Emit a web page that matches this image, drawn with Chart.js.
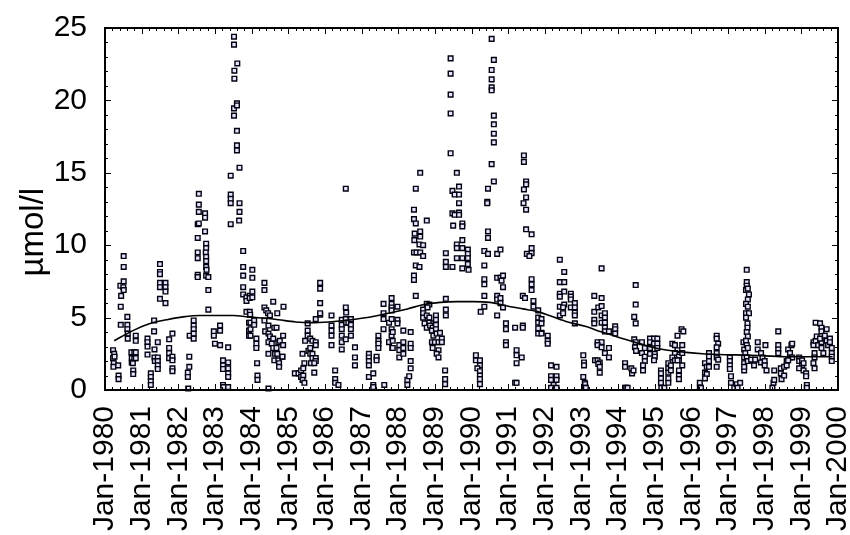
<!DOCTYPE html>
<html>
<head>
<meta charset="utf-8">
<script src="https://cdn.jsdelivr.net/npm/chart.js@4.4.1/dist/chart.umd.min.js"></script>
<style>
  html, body { margin: 0; padding: 0; background: #fff; }
  #wrap { width: 850px; height: 535px; }
</style>
</head>
<body>
<div id="wrap"><canvas id="myChart" width="850" height="535"></canvas></div>
<script>
// sample dates (decimal years) and measured values, one line per cluster
const sampleTimes = [
  1980.22,1980.25,1980.22,1980.24,1980.23,1980.26, 1980.36,1980.37,1980.37,
  1980.43,1980.43,1980.44,1980.42,1980.51,1980.5,1980.51,1980.51,1980.51,
  1980.61,1980.61,1980.61,1980.62,1980.62,
  1980.72,1980.73,1980.73,1980.76,1980.77,1980.77,1980.8,1980.8,1980.84,1980.84,1980.84,1980.84,
  // 1981
  1981.16,1981.16,1981.16,1981.16, 1981.25,1981.25,1981.25,1981.25,
  1981.34,1981.34,1981.35,1981.35,1981.36, 1981.44,1981.44,1981.44,1981.44,1981.44,
  1981.5,1981.5,1981.5,1981.5,1981.5,1981.5, 1981.65,1981.65,1981.65,1981.65,
  1981.75,1981.75,1981.75,1981.75, 1981.84,1981.84,1981.84,1981.84,1981.84,
  // 1982
  1982.27,1982.26,1982.26,1982.3,1982.3,1982.31, 1982.42,1982.42,1982.42,1982.42,1982.42,
  1982.53,1982.53,1982.53,1982.53,1982.53,1982.53, 1982.56,1982.56,1982.56,1982.56,
  1982.73,1982.73,1982.73, 1982.76,1982.76,1982.75,1982.76,1982.76,1982.76,1982.77,1982.76,
  1982.82,1982.82,1982.82,
  // 1983
  1982.97,1982.97,1983.0, 1983.14,1983.14,1983.14, 1983.22,1983.22,1983.22,1983.22,1983.23,
  1983.36,1983.36,1983.36,1983.36,1983.36,1983.36, 1983.43,1983.43,1983.43,1983.43,1983.43,
  1983.52,1983.52,1983.53,1983.53,1983.52,1983.52, 1983.61,1983.6,1983.6,1983.6,1983.6,1983.6,
  1983.67,1983.67,1983.67,1983.66, 1983.77,1983.77,1983.77,1983.77,1983.77,
  1983.86,1983.86,1983.86, 1983.93,1983.93,1983.93,
  // 1984
  1983.95,1983.95,1983.95,1983.96, 1984.02,1984.02,1984.02,1984.02, 1983.97,1983.97,1983.97,
  1984.07,1984.07, 1984.13,1984.13,1984.13,1984.15,1984.16,1984.16,
  1984.35,1984.35,1984.35,1984.35,
  1984.4,1984.45,1984.5,1984.37,1984.46,1984.46,1984.5,1984.46,1984.46,1984.46,
  1984.59,1984.62,1984.68,1984.55,1984.59,1984.59,1984.68,1984.64,1984.7,
  1984.7,1984.73,1984.77,1984.62,1984.73,1984.84,1984.84,1984.75,1984.75,
  1984.87,1984.86,1984.86,
  // 1985
  1985.18,1985.28,1985.35,1985.35,1985.41,1985.41,1985.39,1985.44,1985.44,1985.46,1985.39,
  1985.53,1985.53,1985.53,1985.55, 1985.6,1985.6,1985.66,1985.75,1985.75,
  1985.6,1985.66,1985.66,1985.75,1985.75, 1985.62,1985.71,1985.71,
  1985.75,1985.87, 1985.87,1985.87,1985.87,1985.87,
  // 1986
  1986.18,1986.18,1986.18,1986.18,1986.18, 1986.28,1986.28,1986.28,1986.37,
  1986.46,1986.46,1986.46,1986.46,1986.46,1986.46,
  1986.57,1986.58,1986.57,1986.58,1986.64,1986.57, 1986.71,1986.71,1986.71,1986.71,
  1986.57, 1986.82,1986.82,1986.82,
  // 1987
  1987.2,1987.2,1987.2,1987.2,1987.2, 1987.32,1987.32,1987.32, 1987.41,1987.41,
  1987.46,1987.46,1987.46,1987.46, 1987.6,1987.6,1987.6,1987.6, 1987.62, 1987.75,1987.75,
  1987.82,1987.82,1987.82,1987.82,1987.82,1987.82,1987.82, 1987.84,
  // 1988
  1987.98,1987.98,1987.98,
  1987.85,1987.85,1987.85,1988.14,1988.03,1988.03,1988.03,1988.14,1988.14,1988.14,
  1988.25,1988.25,1988.3, 1988.34,1988.34,1988.34,1988.34,1988.34,
  1988.43,1988.43,1988.48,1988.48,1988.6,1988.45,1988.6,1988.6,1988.44,1988.58,1988.68,
  1988.43,1988.5,1988.6,1988.68,1988.48,1988.58,1988.43,1988.43,1988.48,1988.78,
  1988.68,1988.68,1988.68,1988.78,1988.85,1988.8,1988.78,1988.85,1988.72,1988.85,1988.96,
  1988.78,1988.87,1988.94,1989.03,1989.03,1989.03,1988.92,1989.03,1988.96,1989.05,1989.14,
  1988.92,1989.0,1989.1,1989.19,1989.19,1989.1,1988.94,1989.05,1989.1,
  // 1989
  1989.28,1989.28,1989.28, 1989.3,1989.3,1989.3, 1989.3,1989.3,1989.3,1989.48,
  1989.43,1989.43,1989.43,1989.43,1989.43,
  1989.48,1989.54,1989.66,1989.66,1989.6,1989.66,1989.48,1989.54,1989.66,1989.66,1989.5,
  1989.75,1989.75,1989.6,1989.6,1989.75,1989.75,1989.9,1989.6,1989.75,1989.9,1989.9,1989.9,
  1989.75,1989.92,
  // 1990
  1990.12,1990.12,1990.23,1990.23,1990.16,1990.23,1990.23,1990.23,1990.23,
  1990.35,1990.35,1990.45,1990.35,1990.35,1990.35,1990.35,1990.25,1990.45,1990.45,1990.43,1990.43,1990.45,
  1990.55,1990.61,1990.55,1990.55,1990.55,1990.55,1990.61,1990.61,1990.61,1990.61,1990.55,1990.61,
  1990.7,1990.79,1990.7,1990.79,1990.86,1990.82,1990.86,1990.7,1990.7,1990.79,1990.79,1990.86,1990.7,
  1990.94,1990.94,1990.94,1990.94,1991.19,1991.4,1991.4,1991.23,1991.23,1991.23,1991.37,1991.19,1991.23,
  // 1991
  1991.43,1991.43,1991.49,1991.49,1991.43,1991.49,1991.42,1991.49,1991.49,1991.64,1991.64,
  1991.64,1991.51,1991.58,1991.64,1991.64,1991.64,1991.4,1991.46,1991.69,1991.69,
  1991.82,1991.82,1991.91,1991.82,1991.91,1991.82,1991.91,1991.82,1991.91,1992.08,1992.08,1992.08,
  // 1992
  1992.17,1992.32,1992.17,1992.17,1992.32,1992.32,1992.24,1992.32,1992.17,
  1992.41,1992.53,1992.41,1992.53,1992.41,1992.53,1992.41,1992.41,1992.53,1992.5,1992.41,1992.5,
  1992.71,1992.71,1992.71,1992.82,1992.71,1992.82,1992.82,1992.82,1992.82,
  // 1993
  1993.05,1993.07,1993.07,1993.05,1993.09,1993.1,1993.09,1993.12,
  1993.35,1993.35,1993.35,1993.35,1993.44,1993.55,1993.44,1993.55,1993.37,1993.44,1993.5,1993.46,1993.5,1993.5,
  1993.55,1993.55,1993.46,1993.55,1993.55,1993.64,1993.64,1993.55,1993.64,1993.64,1993.64,1993.75,
  1993.92,1993.92,1993.92,1993.64,1993.75,1993.75,
  // 1994
  1994.19,1994.19,1994.19,1994.22,1994.26,1994.36,1994.38,1994.42,
  1994.48,1994.48,1994.44,1994.48,1994.44,1994.48,1994.46,1994.49,
  1994.65,1994.73,1994.65,1994.73,1994.73,1994.68,1994.68,
  1994.87,1994.98,1995.07,1994.87,1994.87,1994.98,1995.07,1994.87,1995.07,1995.0,1995.0,1994.98,
  // 1995
  1995.17,1995.17,1995.17,1995.17,1995.18,1995.26,
  1995.37,1995.37,1995.37,1995.37,1995.44,1995.44,1995.37,
  1995.48,1995.55,1995.62,1995.55,1995.66,1995.66,1995.66,1995.66,1995.66,
  1995.48,1995.55,1995.62,1995.75,1995.75,1995.75,1995.62,1995.73,1995.78,
  // 1996
  1996.23,1996.23,1996.26, 1996.37,1996.42,1996.37,1996.42,1996.37, 1996.48,1996.48,1996.48,1996.48,
  1996.69,1996.69,1996.73,1996.69,1996.69,1996.69,1996.73,1996.69,
  // 1997
  1997.05,1997.05,1997.05,1997.05,1997.08,1997.08,1997.17,1997.24,1997.33,1997.26,
  1997.42,1997.44,1997.44,1997.44,1997.44,
  1997.51,1997.51,1997.51,
  1997.49,1997.54,1997.57,1997.54,1997.49,1997.54,1997.49,1997.57,1997.49,1997.53,
  1997.53,1997.51,1997.54,1997.49,1997.51,1997.54,1997.47,1997.51,1997.54,1997.44,
  1997.63,1997.74,1997.71,
  1997.81,1997.81,1997.9,1997.94,1997.9,1998.0,1998.0,1998.05,1998.02,
  // 1998
  1998.24,1998.21,1998.26,1998.26, 1998.37,1998.37,1998.37,1998.37,
  1998.44,1998.44,1998.46,1998.53,1998.53,1998.6,1998.6,
  1998.64,1998.69,1998.73,1998.75,1998.69,1998.75,1998.64,
  1998.94,1998.94,1999.02,1999.02,1998.94,1999.06,1999.06,1999.13,1999.13,1999.15,1999.15,
  // 1999
  1999.33,1999.33,1999.39,1999.36,1999.36,1999.33,1999.36,
  1999.39,1999.42,1999.51,1999.55,1999.55,1999.46,1999.55,1999.55,1999.6,1999.51,
  1999.64,1999.69,1999.69,1999.73,1999.78,1999.78,1999.83,1999.83,1999.83,1999.83
];

const sampleValues = [
  2.75,2.5,2.2,1.85,1.6,2.3, 1.7,1.0,0.75,
  4.5,5.75,6.5,7.2,7.5,7.1,6.9,8.5,9.25,
  5.05,4.5,4.2,3.9,3.55,
  2.6,2.2,1.9,1.85,1.35,1.1,2.6,2.2,2.6,2.2,3.75,3.4,
  // 1981
  3.55,3.3,3.0,2.45, 1.15,0.9,0.6,0.35,
  4.8,4.05,2.8,2.25,2.0, 2.25,2.0,1.7,1.45,3.3,
  8.7,8.15,8.0,7.4,7.1,6.3, 7.4,7.1,6.8,6.0,
  3.5,2.9,2.55,2.2, 3.9,2.3,2.05,1.5,1.3,
  // 1982
  0.1,1.2,0.9,2.3,1.6,3.75, 4.8,4.45,4.2,3.9,3.55,
  10.5,11.45,9.5,9.1,7.95,7.8, 11.5,12.3,12.8,13.55,
  12.2,11.9,10.95, 10.1,9.8,9.5,9.2,8.9,8.5,8.3,7.9,
  7.8,6.9,5.55,
  // 1983
  4.05,3.75,3.2, 4.45,4.1,3.1, 2.05,1.7,1.45,0.35,0.2,
  2.95,1.9,1.5,1.15,0.9,0.2, 14.8,13.5,13.2,12.9,11.45,
  24.4,23.85,22.05,21.5,19.45,18.95, 22.55,19.8,19.65,17.9,16.9,16.55,
  15.35,12.9,12.3,11.7, 9.6,8.5,7.9,7.1,6.6,
  6.4,6.15,5.4, 4.65,4.1,3.75,
  // 1984
  6.5,6.35,5.4,5.2, 8.3,7.75,6.8,6.4, 4.65,4.2,3.75,
  4.8,4.5, 3.55,3.2,2.9,1.85,1.0,0.7,
  7.4,6.9,5.7,4.8,
  5.5,5.3,5.15,4.05,4.45,3.9,3.7,3.3,2.5,0.1,
  6.1,4.3,4.3,3.2,3.55,2.9,2.9,2.5,2.5,
  5.3,3.3,3.4,2.05,2.05,2.3,2.3,1.85,1.6,
  5.75,3.75,3.1,
  // 1985
  1.15,1.15,1.35,0.9,1.5,1.0,0.7,0.5,1.85,3.4,2.5,
  4.6,4.1,3.75,2.7, 2.9,3.55,3.4,3.3,3.1,
  2.5,2.5,2.2,2.2,2.0, 1.85,1.85,1.2,
  4.9,5.2, 7.4,7.0,6.0,5.3,
  // 1986
  5.15,4.45,4.1,3.75,3.1, 1.35,0.75,0.5,0.35,
  4.85,4.5,4.2,3.75,3.3,2.8,
  5.7,5.35,4.9,4.65,4.65,3.5, 4.9,4.5,4.2,3.75,
  13.9, 2.95,2.25,1.7,
  // 1987
  2.5,2.25,2.0,1.7,0.9, 1.15,0.35,0.2, 2.3,2.05,
  3.75,3.4,3.2,2.9, 5.95,5.3,4.9,4.2, 0.35, 4.65,3.3,
  6.35,5.95,5.7,5.5,4.9,4.2,3.75, 2.9,
  // 1988
  5.75,4.85,4.6,
  4.0,3.4,2.9,4.1,3.1,2.75,2.25,3.3,2.9,2.5,
  0.7,0.35,0.95, 2.0,1.5,3.2,2.9,4.0,
  12.45,11.8,11.5,13.9,15.0,10.8,10.95,10.6,10.35,10.05,10.0,
  9.5,9.5,9.5,9.25,8.6,8.5,7.9,7.6,6.5,11.7,
  5.55,5.3,5.0,5.95,5.9,5.7,5.15,5.0,4.6,4.65,4.6,
  4.3,4.45,4.3,5.15,4.85,4.5,4.1,4.2,3.75,3.9,3.95,
  3.3,3.3,3.3,3.55,3.3,2.75,2.9,2.5,2.25,
  // 1989
  1.35,0.75,0.4, 6.3,5.55,5.15, 9.45,8.85,8.5,8.5,
  22.9,21.85,20.4,19.1,16.35,
  13.75,13.5,13.5,14.05,15.0,12.9,12.2,12.1,12.25,12.1,11.35,
  11.5,11.3,10.05,9.8,10.35,9.8,9.7,9.1,9.1,9.4,9.1,8.7,
  8.4,8.3,
  // 1990
  2.4,2.05,2.05,1.7,1.5,1.3,1.0,0.75,0.4,
  8.6,9.6,9.4,7.65,7.3,6.5,5.75,5.4,10.95,10.5,13.0,12.9,13.9,
  24.25,22.8,22.1,21.45,20.9,20.7,18.95,18.35,17.7,17.1,15.6,14.4,
  9.4,9.7,7.75,7.75,7.9,7.55,7.1,6.5,6.25,6.35,6.0,5.7,5.15,
  4.6,4.2,3.3,3.1,4.3,4.45,4.3,2.75,2.4,1.85,2.25,0.5,0.5,
  // 1991
  16.2,15.75,14.4,14.2,13.85,13.3,12.9,12.45,11.1,10.75,9.8,
  9.45,9.4,9.25,7.65,7.3,6.9,6.5,6.35,6.15,5.75,
  5.5,5.0,4.9,4.65,4.6,4.25,3.95,3.9,3.9,3.75,3.4,3.2,
  // 1992
  1.7,1.6,0.95,0.7,0.95,0.7,0.35,0.15,0.15,
  9.0,8.15,7.45,7.45,6.65,6.8,6.45,5.75,5.9,5.7,5.15,5.3,
  6.65,6.45,6.25,6.0,5.7,5.7,5.35,5.15,4.6,
  // 1993
  2.4,1.9,1.7,0.9,0.5,0.4,0.15,0.15,
  6.5,5.4,4.85,4.6,3.3,3.3,3.1,2.95,2.05,2.05,1.9,1.8,1.6,1.2,
  8.4,6.35,5.7,5.8,5.15,5.3,5.0,4.65,4.65,4.3,4.05,4.05,
  4.4,4.2,3.9,2.55,2.9,2.25,
  // 1994
  1.85,1.6,0.15,0.15,0.15,1.5,1.15,1.35,
  7.25,5.9,5.05,4.6,3.5,3.3,2.95,2.7,
  3.3,2.9,2.55,2.3,2.0,1.7,1.35,
  3.55,3.55,3.55,3.3,2.9,3.2,3.2,2.5,2.9,2.5,2.3,2.05,
  // 1995
  1.35,1.15,0.8,0.5,0.15,0.15,
  1.85,1.5,1.2,0.8,1.7,1.35,0.5,
  3.2,3.1,2.75,2.55,2.3,2.05,1.35,1.0,0.75,
  2.25,2.05,2.05,3.1,2.55,1.7,3.75,4.2,4.05,
  // 1996
  0.5,0.15,0.15, 1.85,1.6,1.2,1.1,0.8, 2.55,2.3,2.0,1.6,
  3.75,3.55,3.2,2.95,2.55,2.25,2.1,1.6,
  // 1997
  2.25,2.0,1.7,1.45,0.95,0.5,0.15,0.4,0.5,0.15,
  3.3,2.8,2.25,1.85,1.35,
  8.3,7.45,7.2,
  6.9,7.0,6.6,6.25,5.95,5.75,5.3,5.3,5.0,4.6,
  4.3,4.0,3.7,3.4,3.1,2.9,2.55,2.25,2.0,1.6,
  2.1,2.1,1.7,
  3.3,2.8,2.55,2.25,1.9,2.0,1.7,1.35,3.1,
  // 1998
  0.5,0.15,0.7,1.35, 4.05,3.1,2.8,2.55,
  1.5,1.15,0.75,1.6,1.0,2.0,1.7,
  2.8,2.55,3.1,3.2,2.25,2.25,2.05,
  2.25,2.0,2.05,1.7,1.5,1.85,1.35,1.15,0.95,0.35,0.15,
  // 1999
  3.3,3.1,3.4,2.55,2.25,1.85,1.5,
  4.65,3.7,4.6,4.3,4.05,3.1,3.3,2.9,2.55,3.55,
  3.75,4.2,3.4,3.1,3.55,3.3,2.9,2.55,2.3,2.0
];

// smoothed trend curve
const trendTimes = [1980.25, 1980.76, 1981.23, 1981.68, 1982.13, 1982.6, 1983.05, 1983.5, 1983.9,
  1984.37, 1984.73, 1985.2, 1985.65, 1986.1, 1986.55, 1987.0, 1987.45, 1987.83, 1988.25, 1988.7,
  1989.15, 1989.6, 1990.05, 1990.5, 1990.97, 1991.4, 1991.78, 1992.2, 1992.63, 1993.1, 1993.56,
  1994.0, 1994.46, 1994.93, 1995.36, 1995.85, 1996.3, 1996.73, 1997.65, 1998.55, 1999.45, 1999.85];
const trendValues = [3.4, 4.1, 4.6, 4.85, 5.05, 5.15, 5.15, 5.15, 5.05,
  4.95, 4.85, 4.7, 4.65, 4.7, 4.8, 4.95, 5.15, 5.35, 5.6, 5.9,
  6.05, 6.1, 6.1, 6.05, 5.8, 5.6, 5.43, 5.07, 4.7, 4.4, 4.0,
  3.65, 3.3, 2.95, 2.75, 2.6, 2.5, 2.45, 2.4, 2.3, 2.3, 2.3];

const firstYear = 1980;
const lastYear = 2000;
const yMax = 25;
const yTitle = 'µmol/l';

if (sampleTimes.length !== sampleValues.length) {
  console.error('length mismatch', sampleTimes.length, sampleValues.length);
}

const FONT = 'Liberation Sans, Arial, sans-serif';

// frame with inward ticks on all four sides, plus the y axis title
const frameTicks = {
  id: 'frameTicks',
  afterDatasetsDraw(chart) {
    const { ctx, chartArea: a, scales } = chart;
    const x = scales.x, y = scales.y;
    ctx.save();
    ctx.strokeStyle = '#000';
    ctx.lineWidth = 1;
    ctx.beginPath();
    for (let i = 0; i <= (lastYear - firstYear) * 5; i++) {
      const px = Math.round(x.getPixelForValue(firstYear + i / 5)) + 0.5;
      const len = i % 5 === 0 ? 6 : 3;
      ctx.moveTo(px, a.bottom); ctx.lineTo(px, a.bottom - len);
      ctx.moveTo(px, a.top); ctx.lineTo(px, a.top + len);
    }
    for (let v = 0; v <= yMax; v++) {
      const py = Math.round(y.getPixelForValue(v)) + 0.5;
      const len = v % 5 === 0 ? 6 : 3;
      ctx.moveTo(a.left, py); ctx.lineTo(a.left + len, py);
      ctx.moveTo(a.right, py); ctx.lineTo(a.right - len, py);
    }
    ctx.stroke();
    ctx.lineWidth = 2;
    ctx.strokeRect(a.left, a.top, a.right - a.left, a.bottom - a.top);

    // axis title, rotated, sitting a bit below the middle of the axis
    ctx.translate(34, y.getPixelForValue(10.9));
    ctx.rotate(-Math.PI / 2);
    ctx.fillStyle = '#000';
    ctx.font = '33px ' + FONT;
    ctx.textAlign = 'center';
    ctx.textBaseline = 'middle';
    ctx.fillText(yTitle, 0, 0);
    ctx.restore();
  }
};

var ctx = document.getElementById('myChart').getContext('2d');
new Chart(ctx, {
  type: 'scatter',
  data: {
    datasets: [{
      label: 'trend',
      data: trendTimes.map((t, i) => ({ x: t, y: trendValues[i] })),
      showLine: true,
      borderColor: '#000',
      borderWidth: 1.6,
      pointRadius: 0,
      tension: 0.4,
      cubicInterpolationMode: 'monotone',
      fill: false
    }, {
      label: yTitle,
      data: sampleTimes.map((t, i) => ({ x: t, y: sampleValues[i] })),
      pointStyle: 'rect',
      pointRadius: 3.3,
      borderWidth: 1.4,
      borderColor: '#000010',
      backgroundColor: '#e4e4fb'
    }]
  },
  options: {
    responsive: false,
    animation: false,
    devicePixelRatio: 1,
    clip: false,
    layout: { padding: { top: 25, right: 12, left: 0, bottom: 0 } },
    plugins: { legend: { display: false }, tooltip: { enabled: false } },
    scales: {
      x: {
        type: 'linear',
        min: firstYear,
        max: lastYear,
        grid: { display: false },
        border: { display: false },
        ticks: {
          stepSize: 1,
          autoSkip: false,
          maxRotation: 90,
          minRotation: 90,
          padding: 8,
          color: '#000',
          font: { family: FONT, size: 30 },
          callback: v => 'Jan-' + v
        },
        afterFit: s => { s.height = 145; s.paddingLeft = 0; s.paddingRight = 0; }
      },
      y: {
        min: 0,
        max: yMax,
        grid: { display: false },
        border: { display: false },
        ticks: {
          stepSize: 5,
          padding: 10,
          color: '#000',
          font: { family: FONT, size: 30 }
        },
        afterFit: s => { s.width = 105; }
      }
    }
  },
  plugins: [frameTicks]
});
</script>
</body>
</html>
